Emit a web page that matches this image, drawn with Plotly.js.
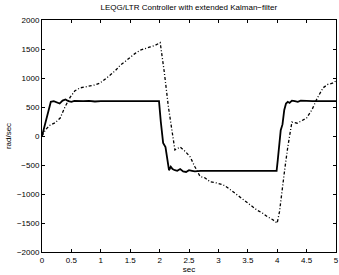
<!DOCTYPE html>
<html><head><meta charset="utf-8">
<script src="https://cdn.plot.ly/plotly-3.0.1.min.js"></script>
<style>html,body{margin:0;padding:0;background:#fff}</style>
</head><body><div id="chart" style="width:339px;height:275px"></div>
<script>
// Solid: measured speed
const tSolid = [0,0.05,0.1,0.15,0.2,0.25,0.3,0.35,0.4,0.45,0.5,0.55,0.6,0.7,0.8,0.9,1.0,1.1,1.2,1.3,1.4,1.5,1.6,1.7,1.8,1.9,1.99,2.02,2.06,2.1,2.13,2.16,2.19,2.22,2.26,2.3,2.35,2.4,2.45,2.5,2.55,2.6,2.7,2.8,2.9,3.0,3.2,3.4,3.6,3.8,3.99,4.01,4.03,4.06,4.09,4.12,4.15,4.18,4.21,4.25,4.3,4.35,4.4,4.5,4.6,4.7,4.8,4.9,5.0];
const ySolid = [0,200,420,590,600,575,560,610,630,600,590,605,600,600,605,595,600,600,605,595,600,600,605,600,600,600,600,250,-120,-190,-410,-590,-530,-570,-590,-600,-570,-610,-620,-590,-600,-610,-600,-600,-600,-600,-600,-600,-600,-600,-600,-410,-200,100,200,450,560,590,570,610,600,590,610,600,600,600,600,600,600];
// Dash-dot: estimated speed
const tDash = [0,0.06,0.14,0.22,0.31,0.39,0.48,0.56,0.65,0.75,0.82,0.9,0.99,1.08,1.16,1.25,1.33,1.42,1.5,1.58,1.67,1.75,1.84,1.92,2.01,2.08,2.15,2.26,2.35,2.44,2.52,2.6,2.69,2.77,2.86,2.97,3.08,3.17,3.25,3.34,3.42,3.54,3.66,3.75,3.83,3.92,4.0,4.04,4.08,4.13,4.18,4.25,4.34,4.42,4.5,4.59,4.68,4.78,4.86,4.94,5.0];
const yDash = [0,110,190,225,310,500,670,780,830,850,860,880,915,980,1050,1130,1220,1290,1360,1420,1480,1510,1535,1560,1610,1100,500,-240,-190,-270,-360,-530,-700,-720,-790,-810,-840,-900,-960,-1030,-1100,-1190,-1280,-1330,-1390,-1440,-1500,-1300,-930,-560,-190,240,220,260,310,450,650,830,890,910,950];

const font = {family:'"Liberation Sans", Arial, Helvetica, sans-serif', size:8, color:'#000'};
const data = [
  {x:tSolid, y:ySolid, type:'scatter', mode:'lines', line:{color:'#000', width:1.8}, hoverinfo:'skip'},
  {x:tDash, y:yDash, type:'scatter', mode:'lines', line:{color:'#000', width:1.3, dash:'3px,2px,1px,2px'}, hoverinfo:'skip'}
];
const axisBase = {showline:true, linecolor:'#000', linewidth:1, mirror:'ticks', ticks:'inside', ticklen:3, tickcolor:'#000', showgrid:false, zeroline:false, tickfont:font};
const layout = {
  width:339, height:275, margin:{l:42, r:3, t:20, b:23},
  paper_bgcolor:'#fff', plot_bgcolor:'#fff', showlegend:false, font:font,
  title:{text:'LEQG/LTR Controller with extended Kalman\u2212filter', font:font, x:0.557, xanchor:'center', y:0.975, yanchor:'middle'},
  xaxis:Object.assign({}, axisBase, {range:[0,5], tickvals:[0,0.5,1,1.5,2,2.5,3,3.5,4,4.5,5], ticktext:['0','0.5','1','1.5','2','2.5','3','3.5','4','4.5','5'], title:{text:'sec', font:font, standoff:2}}),
  yaxis:Object.assign({}, axisBase, {range:[-2000,2000], tickvals:[-2000,-1500,-1000,-500,0,500,1000,1500,2000], ticktext:['\u22122000','\u22121500','\u22121000','\u2212500','0','500','1000','1500','2000'], title:{text:'rad/sec', font:font, standoff:4}})
};
Plotly.newPlot('chart', data, layout, {staticPlot:true, displayModeBar:false});
</script></body></html>
